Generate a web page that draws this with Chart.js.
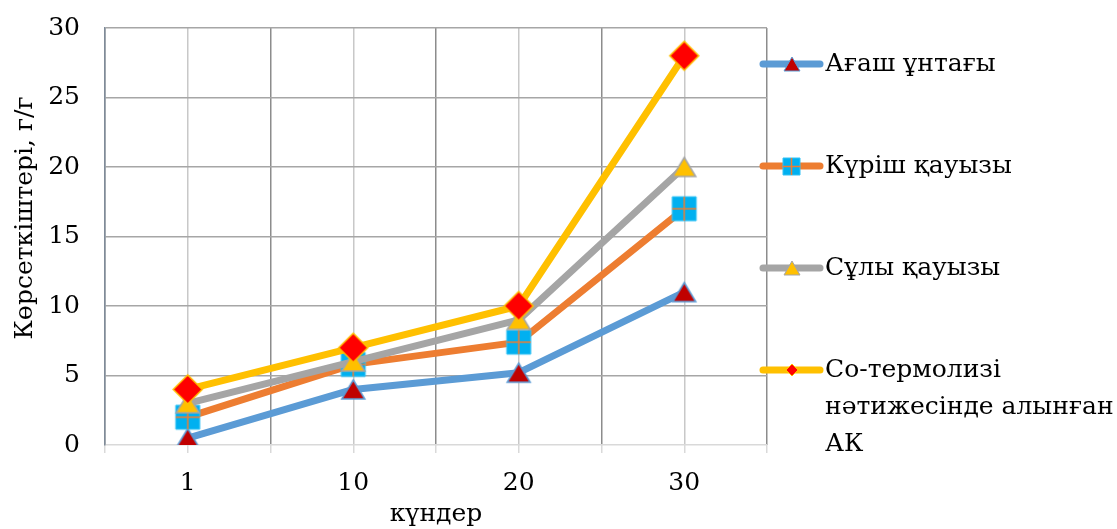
<!DOCTYPE html>
<html lang="kk">
<head>
<meta charset="UTF-8">
<title>Көрсеткіштері, г/г</title>
<script src="https://cdn.jsdelivr.net/npm/chart.js"></script>
<style>
  html, body { margin: 0; padding: 0; background: #fff; }
  #wrap { width: 1117px; height: 529px; }
</style>
</head>
<body>
<div id="wrap"><canvas id="myChart" width="1117" height="529"></canvas></div>
<script>
// data
var days = ['1', '10', '20', '30'];
var agash = [0.5, 4, 5.2, 11];
var kurish = [2, 5.8, 7.4, 17];
var suly = [3, 6, 9, 20];
var coTerm = [4, 7, 10, 28];
var names = [
  ['Ағаш ұнтағы'],
  ['Күріш қауызы'],
  ['Сұлы қауызы'],
  ['Со-термолизі', 'нәтижесінде алынған', 'АК']
];
var yTitle = 'Көрсеткіштері, г/г';
var xTitle = 'күндер';

var FONT = '"DejaVu Serif", "Liberation Serif", serif';
var legendRowY = [64, 166, 268, 370];

// small canvases used as markers (points + legend)
function marker(shape, w, h, fill, stroke, lw, cross) {
  var pad = Math.ceil(lw) + 1;
  var c = document.createElement('canvas');
  c.width = w + pad * 2;
  c.height = h + pad * 2;
  var ctx = c.getContext('2d');
  var x0 = pad, y0 = pad, cx = pad + w / 2, cy = pad + h / 2;
  ctx.beginPath();
  if (shape == 'triangle') {
    ctx.moveTo(cx, y0);
    ctx.lineTo(x0 + w, y0 + h);
    ctx.lineTo(x0, y0 + h);
    ctx.closePath();
  } else if (shape == 'diamond') {
    ctx.moveTo(cx, y0);
    ctx.lineTo(x0 + w, cy);
    ctx.lineTo(cx, y0 + h);
    ctx.lineTo(x0, cy);
    ctx.closePath();
  } else {
    ctx.rect(x0, y0, w, h);
  }
  ctx.fillStyle = fill;
  ctx.fill();
  ctx.lineWidth = lw;
  ctx.strokeStyle = stroke;
  ctx.stroke();
  if (cross) {
    ctx.beginPath();
    ctx.moveTo(cx, y0);
    ctx.lineTo(cx, y0 + h);
    ctx.moveTo(x0, cy);
    ctx.lineTo(x0 + w, cy);
    ctx.strokeStyle = cross;
    ctx.lineWidth = 1.5;
    ctx.stroke();
  }
  return c;
}

var colors = ['#5B9BD5', '#ED7D31', '#A5A5A5', '#FFC000'];
var pointMarks = [
  marker('triangle', 23, 19, '#C00000', '#5B9BD5', 1.5),
  marker('rect', 24, 24, '#00B0F0', '#33C2F5', 1, '#ED7D31'),
  marker('triangle', 23, 19, '#FFC000', '#A5A5A5', 1.5),
  marker('diamond', 29, 29, '#FF0000', '#FFC000', 1.5)
];
var legendMarks = [
  marker('triangle', 16, 14, '#C00000', '#5B9BD5', 1),
  marker('rect', 17, 17, '#00B0F0', '#33C2F5', 1, '#ED7D31'),
  marker('triangle', 16, 14, '#FFC000', '#A5A5A5', 1),
  marker('diamond', 12, 12, '#FF0000', '#FFC000', 1)
];

function makeSet(i, values) {
  return {
    label: names[i].join(' '),
    data: values,
    borderColor: colors[i],
    backgroundColor: colors[i],
    borderWidth: 7,
    borderCapStyle: 'round',
    borderJoinStyle: 'round',
    pointStyle: pointMarks[i],
    pointRadius: 10,
    tension: 0,
    fill: false,
    order: 3 - i
  };
}

var sideLegend = {
  id: 'sideLegend',
  afterDraw: function (chart) {
    var ctx = chart.ctx;
    var x1 = chart.chartArea.right - 4, x2 = chart.chartArea.right + 53;
    var mx = (x1 + x2) / 2;
    ctx.save();
    ctx.font = '25px ' + FONT;
    ctx.textBaseline = 'middle';
    ctx.fillStyle = '#000';
    chart.data.datasets.forEach(function (ds, i) {
      var y = legendRowY[i];
      ctx.beginPath();
      ctx.moveTo(x1, y);
      ctx.lineTo(x2, y);
      ctx.strokeStyle = ds.borderColor;
      ctx.lineWidth = 7;
      ctx.lineCap = 'round';
      ctx.stroke();
      var m = legendMarks[i];
      ctx.drawImage(m, Math.round(mx - m.width / 2), Math.round(y - m.height / 2));
      names[i].forEach(function (t, k) {
        ctx.fillText(t, x2 + 5, y + k * 37);
      });
    });
    // y axis title
    ctx.translate(25, 218);
    ctx.rotate(-Math.PI / 2);
    ctx.textAlign = 'center';
    ctx.fillText(yTitle, 0, 0);
    ctx.restore();
  }
};

new Chart(document.getElementById('myChart'), {
  type: 'line',
  data: {
    labels: days,
    datasets: [makeSet(0, agash), makeSet(1, kurish), makeSet(2, suly), makeSet(3, coTerm)]
  },
  options: {
    responsive: false,
    devicePixelRatio: 1,
    animation: false,
    layout: { padding: { top: 28, right: 350, left: 0, bottom: 0 } },
    plugins: { legend: { display: false }, tooltip: { enabled: false } },
    scales: {
      x: {
        offset: true,
        weight: 1,
        grid: {
          offset: true,
          lineWidth: 1.5,
          color: function (c) { return c.index == days.length ? '#7F8B99' : '#8C8C8C'; },
          tickColor: '#D9D9D9',
          tickLength: 8
        },
        border: { display: false },
        ticks: { color: '#000', font: { family: FONT, size: 25 }, padding: 15 },
        title: { display: true, text: xTitle, color: '#000', font: { family: FONT, size: 25 }, padding: 0 },
        afterFit: function (s) { s.height = 84; }
      },
      x2: {
        type: 'category',
        position: 'bottom',
        labels: days,
        offset: true,
        weight: 0,
        grid: { offset: false, lineWidth: 1.5, color: '#C8C8C8', tickColor: '#D9D9D9', tickLength: 8 },
        border: { display: false },
        ticks: { display: false },
        afterFit: function (s) { s.height = 0; }
      },
      y: {
        min: 0,
        max: 30,
        ticks: { stepSize: 5, color: '#000', font: { family: FONT, size: 25 }, padding: 0 },
        grid: {
          drawTicks: true,
          tickLength: 25,
          tickColor: 'rgba(0,0,0,0)',
          lineWidth: 1.5,
          color: function (c) { return c.tick && c.tick.value === 0 ? '#D9D9D9' : '#A6A6A6'; }
        },
        border: { color: '#7F8B99', width: 1.5 },
        afterFit: function (s) { s.width = 105; }
      }
    }
  },
  plugins: [sideLegend]
});
</script>
</body>
</html>
